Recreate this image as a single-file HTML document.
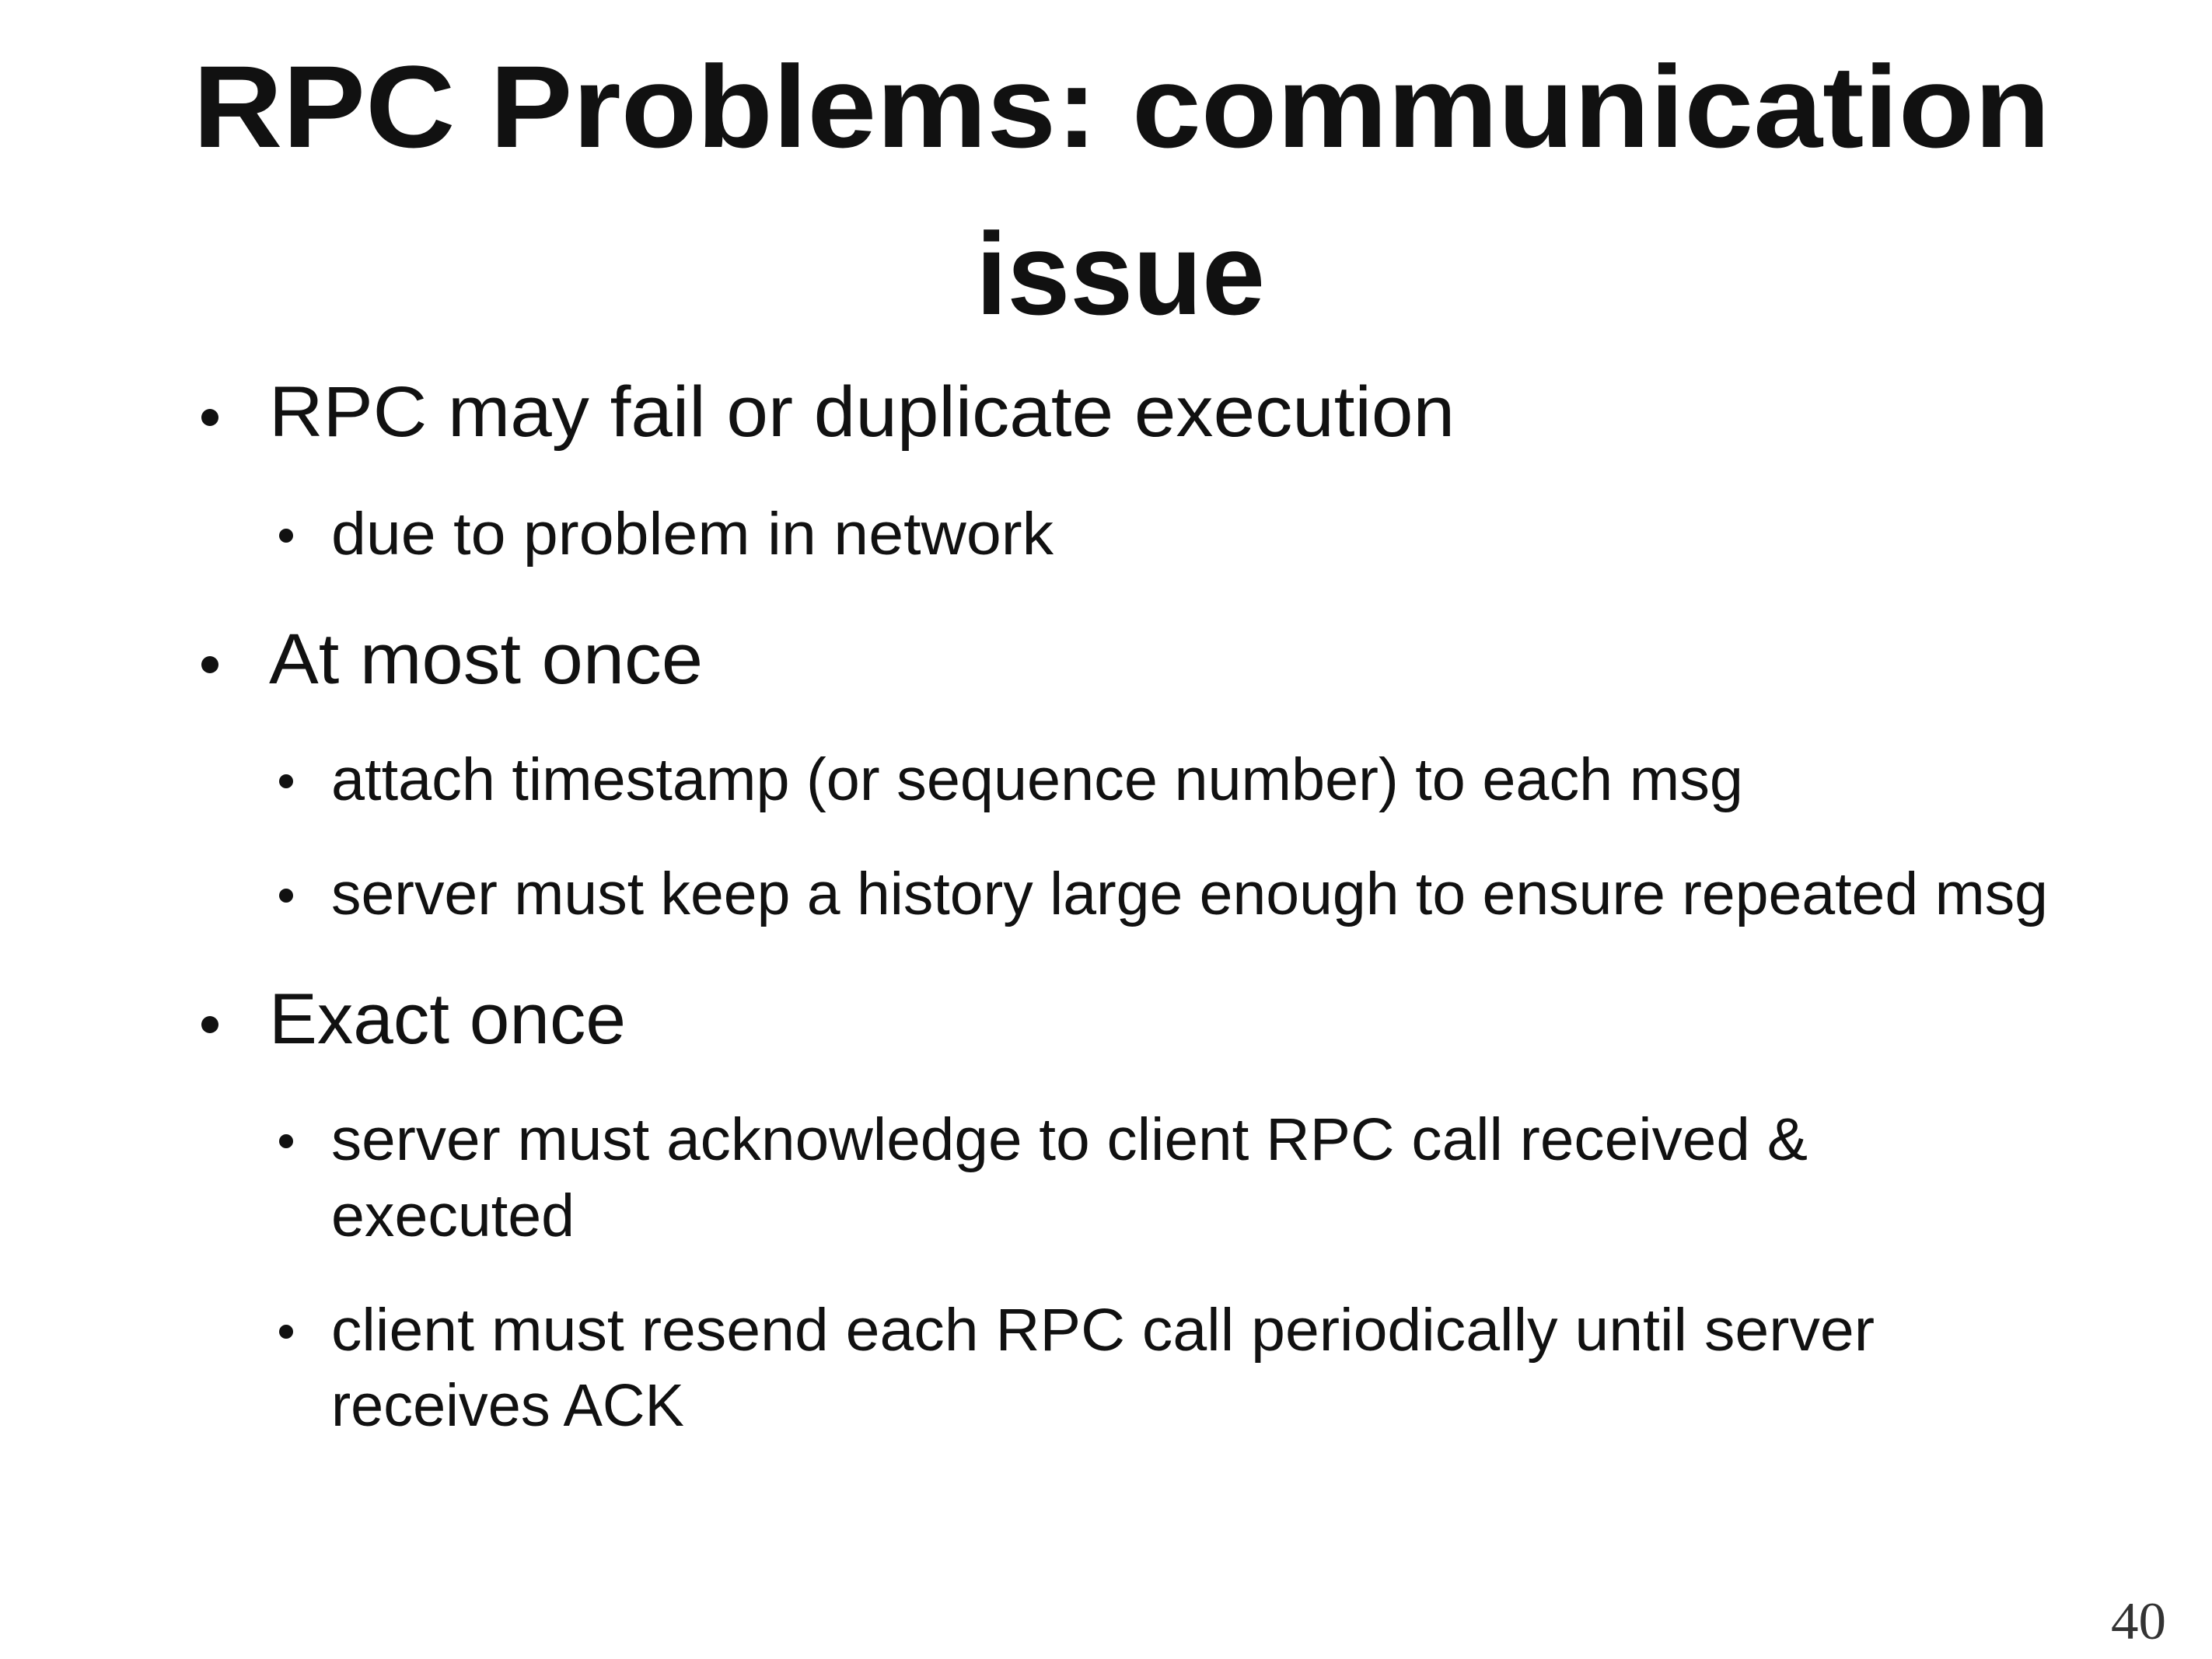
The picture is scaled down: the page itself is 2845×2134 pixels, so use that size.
<!DOCTYPE html>
<html><head><meta charset="utf-8"><style>html,body{margin:0;padding:0;background:#fff}svg{display:block}</style></head>
<body>
<svg width="2845" height="2134" viewBox="0 0 2845 2134" xmlns="http://www.w3.org/2000/svg">
<rect width="2845" height="2134" fill="#fff"/>
<g font-family="Liberation Sans, sans-serif" fill="#111">
<text x="248" y="189" font-size="150" font-weight="bold" textLength="2389" lengthAdjust="spacingAndGlyphs">RPC Problems: communication</text>
<text x="1255" y="404" font-size="150" font-weight="bold" textLength="372" lengthAdjust="spacingAndGlyphs">issue</text>

<circle cx="270" cy="537" r="11"/>
<text x="346" y="561" font-size="92" textLength="1525" lengthAdjust="spacingAndGlyphs">RPC may fail or duplicate execution</text>
<circle cx="368" cy="689" r="9"/>
<text x="426" y="713" font-size="77" textLength="929" lengthAdjust="spacingAndGlyphs">due to problem in network</text>

<circle cx="270" cy="855" r="11"/>
<text x="346" y="879" font-size="92" textLength="558" lengthAdjust="spacingAndGlyphs">At most once</text>
<circle cx="368" cy="1005" r="9"/>
<text x="426" y="1029" font-size="77" textLength="1816" lengthAdjust="spacingAndGlyphs">attach timestamp (or sequence number) to each msg</text>
<circle cx="368" cy="1152" r="9"/>
<text x="426" y="1176" font-size="77" textLength="2208" lengthAdjust="spacingAndGlyphs">server must keep a history large enough to ensure repeated msg</text>

<circle cx="270" cy="1318" r="11"/>
<text x="346" y="1342" font-size="92" textLength="459" lengthAdjust="spacingAndGlyphs">Exact once</text>
<circle cx="368" cy="1468" r="9"/>
<text x="426" y="1492" font-size="77" textLength="1899" lengthAdjust="spacingAndGlyphs">server must acknowledge to client RPC call received &amp;</text>
<text x="426" y="1590" font-size="77" textLength="313" lengthAdjust="spacingAndGlyphs">executed</text>
<circle cx="368" cy="1713" r="9"/>
<text x="426" y="1737" font-size="77" textLength="1985" lengthAdjust="spacingAndGlyphs">client must resend each RPC call periodically until server</text>
<text x="426" y="1834" font-size="77" textLength="454" lengthAdjust="spacingAndGlyphs">receives ACK</text>

<text x="2715" y="2108" font-size="68" font-family="Liberation Serif, serif" fill="#333" textLength="71" lengthAdjust="spacingAndGlyphs">40</text>
</g>
</svg>
</body></html>
